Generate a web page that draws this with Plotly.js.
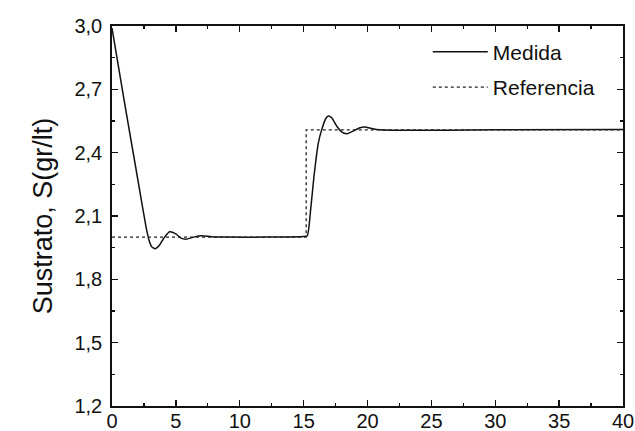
<!DOCTYPE html>
<html>
<head>
<meta charset="utf-8">
<script src="https://cdn.plot.ly/plotly-3.0.1.min.js"></script>
<style>html,body{margin:0;padding:0;background:#fff;}#chart{width:635px;height:431px;}</style>
</head>
<body>
<div id="chart"></div>
<script>
// Medida (measured substrate)
var medidaT = [0, 1.0, 2.0, 2.66, 2.9, 3.1, 3.37, 3.7, 4.0, 4.5, 5.0, 5.4, 5.8, 6.4, 7.0, 7.8, 9.0, 12.0, 15.0,
  15.29, 15.55, 15.81, 16.15, 16.41, 16.75, 16.93, 17.2, 17.6, 18.0, 18.4, 18.9, 19.4, 19.8, 20.4, 21.0, 22.0, 30.0, 40.0];
var medidaS = [2.99, 2.63, 2.28, 2.05, 1.985, 1.955, 1.945, 1.96, 1.99, 2.025, 2.015, 1.995, 1.99, 2.0, 2.006, 2.002, 2.0, 2.0, 2.003,
  2.007, 2.13, 2.287, 2.445, 2.508, 2.563, 2.574, 2.565, 2.525, 2.497, 2.49, 2.503, 2.518, 2.522, 2.513, 2.508, 2.506, 2.508, 2.51];
// Referencia (setpoint)
var refT = [0, 15.2, 15.2, 40];
var refS = [2.0, 2.0, 2.508, 2.508];
var xTicks = [0, 5, 10, 15, 20, 25, 30, 35, 40];
var yTicks = [1.2, 1.5, 1.8, 2.1, 2.4, 2.7, 3.0];

var F = 'Liberation Sans, Arial, sans-serif';
var traces = [
  {x: medidaT, y: medidaS, mode: 'lines', name: 'Medida', legendgroup: 'a',
   line: {color: '#111', width: 1.5, shape: 'spline', smoothing: 0.5}},
  {x: refT, y: refS, mode: 'lines', name: 'Referencia', legendgroup: 'b',
   line: {color: '#222', width: 1.3, dash: 'dot'}}
];
var layout = {
  width: 635, height: 431,
  margin: {l: 112, r: 12, t: 26, b: 25},
  paper_bgcolor: '#fff', plot_bgcolor: '#fff',
  separators: ',.',
  font: {family: F, size: 20, color: '#111'},
  showlegend: true,
  legend: {x: 0.618, y: 0.985, xanchor: 'left', yanchor: 'top', bgcolor: 'rgba(0,0,0,0)',
    font: {family: F, size: 21, color: '#111'},
    traceorder: 'grouped', tracegroupgap: 5, itemwidth: 55},
  xaxis: {range: [0, 40], tickvals: xTicks, ticktext: xTicks.map(String),
    showgrid: false, zeroline: false, showline: true, linecolor: '#111', linewidth: 1.8,
    mirror: 'ticks', ticks: 'inside', ticklen: 6, tickcolor: '#111', tickwidth: 1.4,
    minor: {dtick: 2.5, ticks: 'inside', ticklen: 3, tickcolor: '#111', tickwidth: 1.2},
    tickfont: {family: F, size: 20, color: '#111'}, ticklabelstandoff: -4},
  yaxis: {range: [1.2, 3.0], tickvals: yTicks, tickformat: '.1f',
    showgrid: false, zeroline: false, showline: true, linecolor: '#111', linewidth: 1.8,
    mirror: 'ticks', ticks: 'inside', ticklen: 6, tickcolor: '#111', tickwidth: 1.4,
    minor: {dtick: 0.15, tick0: 1.2, ticks: 'inside', ticklen: 3, tickcolor: '#111', tickwidth: 1.2},
    tickfont: {family: F, size: 20, color: '#111'}, ticklabelstandoff: 4,
    title: {text: 'Sustrato, S(gr/lt)', standoff: 14,
      font: {family: F, size: 27, color: '#111'}}}
};
Plotly.newPlot('chart', traces, layout, {displayModeBar: false, staticPlot: true});
</script>
</body>
</html>
